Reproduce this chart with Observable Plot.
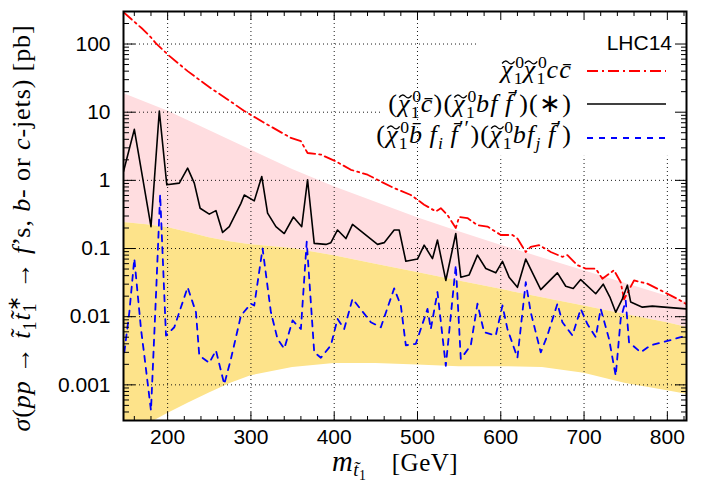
<!DOCTYPE html>
<html><head><meta charset="utf-8">
<script src="https://cdn.jsdelivr.net/npm/d3@7"></script>
<script src="https://cdn.jsdelivr.net/npm/@observablehq/plot@0.6"></script>
<style>body{margin:0;background:#fff}</style>
</head><body><div id="chart"></div>
<script>
// ---- data ----
const xTicks = [200, 300, 400, 500, 600, 700, 800];
const yTicks = [0.001, 0.01, 0.1, 1, 10, 100];
const yTickLabels = ["0.001", "0.01", "0.1", "1", "10", "100"];

const bandMass = [147,175,200,225,250,275,300,350,400,450,500,550,600,650,700,750,800,823];
const pinkTop = [18.8,13.8,10.4,7.48,5.38,3.87,2.79,1.44,0.805,0.476,0.282,0.176,0.112,0.0728,0.0473,0.0308,0.0200,0.0164];
const yellowTop = [0.241,0.224,0.203,0.172,0.144,0.126,0.1135,0.100,0.0783,0.059,0.0445,0.0335,0.0252,0.019,0.0143,0.0108,0.00813,0.0070];
const yellowBottom = [1.7e-4,2.6e-4,3.8e-4,5.4e-4,7.6e-4,1.05e-3,1.36e-3,1.8e-3,2.05e-3,2.05e-3,1.95e-3,1.85e-3,1.85e-3,1.8e-3,1.48e-3,1.05e-3,8.2e-4,7.3e-4];

const massRed = [147,170,180,186,202,224,252,272,292,316,348,360,368,384,402,420,440,456,472,492,508,522,528,536,546,550,560,572,584,600,614,620,630,636,646,660,674,680,692,702,714,722,736,744,748,760,776,796,812,822];
const valRed = [292,166,125,102,67,40,22.4,15.4,10.4,7.0,4.19,3.75,2.52,2.39,1.90,1.43,1.21,0.96,0.77,0.61,0.44,0.35,0.39,0.31,0.20,0.29,0.28,0.22,0.21,0.158,0.158,0.14,0.089,0.106,0.112,0.089,0.0755,0.080,0.057,0.0507,0.0507,0.036,0.048,0.032,0.018,0.034,0.0305,0.023,0.0183,0.0155];

const massBlack = [147,160,180,190,199,214,224,232,239,250,258,266,274,288,292,304,313,320,330,340,351,361,368,376,390,396,404,414,422,452,460,472,478,486,500,508,518,524,534,546,552,562,572,582,594,602,610,620,630,648,668,678,687,696,714,723,731,738,746,752,756,770,782,800,823];
const valBlack = [1.35,5.6,0.209,10.4,0.86,0.91,1.51,0.91,0.39,0.32,0.36,0.172,0.209,0.46,0.61,0.50,1.14,0.33,0.209,0.166,0.29,0.209,1.02,0.119,0.115,0.122,0.187,0.14,0.226,0.115,0.122,0.187,0.187,0.065,0.070,0.112,0.071,0.133,0.034,0.166,0.038,0.041,0.080,0.051,0.044,0.065,0.038,0.027,0.070,0.025,0.044,0.028,0.026,0.035,0.0217,0.030,0.0194,0.0116,0.0183,0.029,0.0164,0.0138,0.0143,0.0137,0.0130];

const massBlue = [148,154,160,168,172,180,186,191,198,208,224,234,238,250,258,268,276,288,300,304,314,324,332,340,350,360,367,376,384,396,404,412,422,444,456,472,480,486,498,512,516,524,534,546,552,564,572,580,594,602,608,620,630,636,648,656,668,674,686,696,704,714,720,730,738,744,750,754,768,780,794,816,823];
const valBlue = [0.0030,0.0116,0.071,0.0066,0.0027,0.00042,0.0206,0.62,0.0053,0.0070,0.027,0.0116,0.0027,0.0021,0.0032,0.00102,0.0024,0.0104,0.0155,0.0146,0.1,0.0116,0.0047,0.0034,0.0088,0.0066,0.126,0.0030,0.0025,0.0038,0.0093,0.0066,0.0183,0.0083,0.0070,0.026,0.0146,0.0038,0.0040,0.0130,0.0066,0.023,0.0019,0.057,0.0024,0.0038,0.0155,0.0059,0.0053,0.0146,0.0066,0.0025,0.032,0.0116,0.0030,0.0053,0.0155,0.0083,0.0053,0.0130,0.0078,0.0050,0.0130,0.0047,0.00136,0.0093,0.0173,0.0042,0.0030,0.0038,0.0042,0.0050,0.0053];

// ---- build ----
const xDomain = [147, 823];
const yDomain = [3e-4, 300];
const xMinor = d3.range(160, 821, 20).filter(v => v % 100 !== 0);
const yMinor = [];
for (let e = -4; e <= 2; e++) for (let k = 2; k <= 9; k++) {
  const v = k * Math.pow(10, e);
  if (v > yDomain[0] && v < yDomain[1]) yMinor.push(v);
}
const band = bandMass.map((m, i) => ({m, pt: pinkTop[i], yt: yellowTop[i], yb: yellowBottom[i]}));
const red = massRed.map((m, i) => ({m, v: valRed[i]}));
const black = massBlack.map((m, i) => ({m, v: valBlack[i]}));
const blue = massBlue.map((m, i) => ({m, v: valBlue[i]}));

const grid = {stroke: "#000", strokeWidth: 1, strokeDasharray: "1,3", strokeOpacity: 0.9};
const empty = () => "";

const plot = Plot.plot({
  width: 705, height: 485,
  marginLeft: 123, marginRight: 19, marginTop: 11, marginBottom: 65,
  style: {fontFamily: "'Liberation Sans', Arial, sans-serif", fontSize: "21px", background: "#fff", color: "#000"},
  x: {type: "linear", domain: xDomain, label: null},
  y: {type: "log", domain: yDomain, label: null},
  marks: [
    Plot.areaY(band, {x: "m", y1: "yt", y2: "pt", fill: "#ffdde0", clip: true}),
    Plot.areaY(band, {x: "m", y1: "yb", y2: "yt", fill: "#fde38a", clip: true}),
    Plot.ruleX(xTicks, {x: d => d, y1: yDomain[0], y2: d => d >= 600 ? 2.25 : yDomain[1], ...grid}),
    Plot.ruleY(yTicks, {y: d => d, x1: xDomain[0], x2: d => d === 100 ? 572 : d === 10 ? 456 : xDomain[1], ...grid}),
    Plot.line(red, {x: "m", y: "v", stroke: "#ff0000", strokeWidth: 1.8, strokeDasharray: "11,4,2,4", clip: true}),
    Plot.line(black, {x: "m", y: "v", stroke: "#000", strokeWidth: 1.6, clip: true}),
    Plot.line(blue, {x: "m", y: "v", stroke: "#0000ff", strokeWidth: 1.8, strokeDasharray: "6,6", clip: true}),
    Plot.frame({stroke: "#000", strokeWidth: 2}),
    // inward tick marks on all four sides
    Plot.axisY(yTicks, {anchor: "left", tickSize: -12, tickFormat: empty, label: null}),
    Plot.axisY(yMinor, {anchor: "left", tickSize: -6, tickFormat: empty, label: null}),
    Plot.axisY(yTicks, {anchor: "right", tickSize: -12, tickFormat: empty, label: null}),
    Plot.axisY(yMinor, {anchor: "right", tickSize: -6, tickFormat: empty, label: null}),
    Plot.axisX(xTicks, {anchor: "bottom", tickSize: -8, tickFormat: empty, label: null}),
    Plot.axisX(xMinor, {anchor: "bottom", tickSize: -4, tickFormat: empty, label: null}),
    Plot.axisX(xTicks, {anchor: "top", tickSize: -8, tickFormat: empty, label: null}),
    Plot.axisX(xMinor, {anchor: "top", tickSize: -4, tickFormat: empty, label: null}),
    // tick labels
    Plot.axisY(yTicks, {anchor: "left", tickSize: 0, tickPadding: 13, tickFormat: d => yTickLabels[yTicks.indexOf(d)], fontSize: 21, label: null}),
    Plot.axisX(xTicks, {anchor: "bottom", tickSize: 0, tickPadding: 9, tickFormat: d => String(d), fontSize: 21, label: null})
  ]
});
document.getElementById("chart").append(plot);

// ---- rich text (legend and axis titles) ----
const svg = d3.select(plot);
const serif = "'Liberation Serif', 'Times New Roman', serif";
function rich(x, y, segs, opts) {
  const size = opts.size;
  const t = svg.append("text").attr("x", x).attr("y", y)
    .attr("text-anchor", opts.anchor || "start")
    .attr("font-family", opts.font || serif).attr("font-size", size).attr("fill", "#000")
    .attr("letter-spacing", opts.ls || 0);
  if (opts.rotate) t.attr("transform", `rotate(${opts.rotate},${x},${y})`);
  let cur = 0, idx = 0;
  const tildes = [];
  for (const s of segs) {
    const off = s.off || 0;
    const ts = t.append("tspan").text(s.t).attr("dy", off - cur)
      .attr("font-style", s.i ? "italic" : "normal");
    if (s.fs) ts.attr("font-size", s.fs * size);
    if (s.dx) ts.attr("dx", s.dx);
    if (s.tilde) tildes.push(idx);
    idx += s.t.length;
    cur = off;
  }
  // wide tilde accents (drawn as small strokes) over the marked glyphs
  const node = t.node();
  for (const k of tildes) {
    const e = node.getExtentOfChar(k);
    const w = Math.max(e.width - (opts.ls || 0), 8) + 1;
    const x0 = e.x + 1.5 + (e.width - (opts.ls || 0)) / 2 - w / 2;
    const ty = y - 0.6 * size, h = 2.2;
    svg.append("path")
      .attr("d", `M${x0},${ty + h / 2} Q${x0 + w / 4},${ty - h * 1.5} ${x0 + w / 2},${ty} T${x0 + w},${ty - h / 2}`)
      .attr("fill", "none").attr("stroke", "#000").attr("stroke-width", 1.3);
  }
  return t;
}
const S = 26, LS = 1.2;
const SUP = -10, SUB = 6;
const chi = () => [{t: "\u03C7", i: 1, tilde: 1}, {t: "0", off: SUP, fs: .68, dx: 1.5},
  {t: "1", off: SUB, fs: .68, dx: -(0.5 * 0.68 * S + LS + 1.5)}];

svg.append("text").attr("x", 672).attr("y", 50).attr("text-anchor", "end")
  .attr("font-family", "'Liberation Sans', Arial, sans-serif").attr("font-size", 21).text("LHC14");

rich(572, 78, [...chi(), ...chi(), {t: "c", i: 1}, {t: "c\u0304", i: 1}], {size: S, anchor: "end", ls: LS});
rich(572, 112, [{t: "("}, ...chi(), {t: "c\u0304", i: 1}, {t: ")("}, ...chi(), {t: "bf\u2009f\u0304", i: 1},
  {t: "\u2032", off: -8, fs: .8}, {t: ")(\u2217)"}], {size: S, anchor: "end", ls: LS});
rich(572, 143, [{t: "("}, ...chi(), {t: "b\u0304\u2009f", i: 1}, {t: "i", i: 1, off: SUB, fs: .68}, {t: "\u2009f\u0304", i: 1},
  {t: "\u2032\u2032", off: -8, fs: .8}, {t: ")("}, ...chi(), {t: "bf", i: 1}, {t: "j", i: 1, off: SUB, fs: .68},
  {t: "\u2009f\u0304", i: 1}, {t: "\u2032", off: -8, fs: .8}, {t: ")"}], {size: S, anchor: "end", ls: LS});

const legendLines = [
  {y: 71, stroke: "#ff0000", dash: "11,4,2,4", w: 1.8},
  {y: 104, stroke: "#000", dash: null, w: 1.6},
  {y: 138, stroke: "#0000ff", dash: "6,6", w: 1.8}
];
for (const l of legendLines) {
  svg.append("line").attr("x1", 587).attr("x2", 666).attr("y1", l.y).attr("y2", l.y)
    .attr("stroke", l.stroke).attr("stroke-width", l.w).attr("stroke-dasharray", l.dash);
}

// y axis title
rich(30, 228, [{t: "\u03C3", i: 1}, {t: "("}, {t: "pp", i: 1}, {t: " \u2192 "}, {t: "t\u0303", i: 1},
  {t: "1", off: 6, fs: .7}, {t: "t\u0303", i: 1}, {t: "1", off: 6, fs: .7}, {t: "\u2217", off: -10, fs: .7, dx: -9},
  {t: " \u2192 "}, {t: "f", i: 1}, {t: "\u2019s, "}, {t: "b", i: 1}, {t: "- or "}, {t: "c", i: 1}, {t: "-jets) [pb]"}],
  {size: 26, anchor: "middle", rotate: -90, ls: 0.9});

// x axis title
rich(395, 471, [{t: "m", i: 1, fs: 1.15}, {t: "t\u0303", i: 1, off: 5, fs: .75}, {t: "1", off: 9, fs: .55},
  {t: "\u2003[GeV]", off: 0}], {size: 25, anchor: "middle", ls: 0.5});
</script></body></html>
